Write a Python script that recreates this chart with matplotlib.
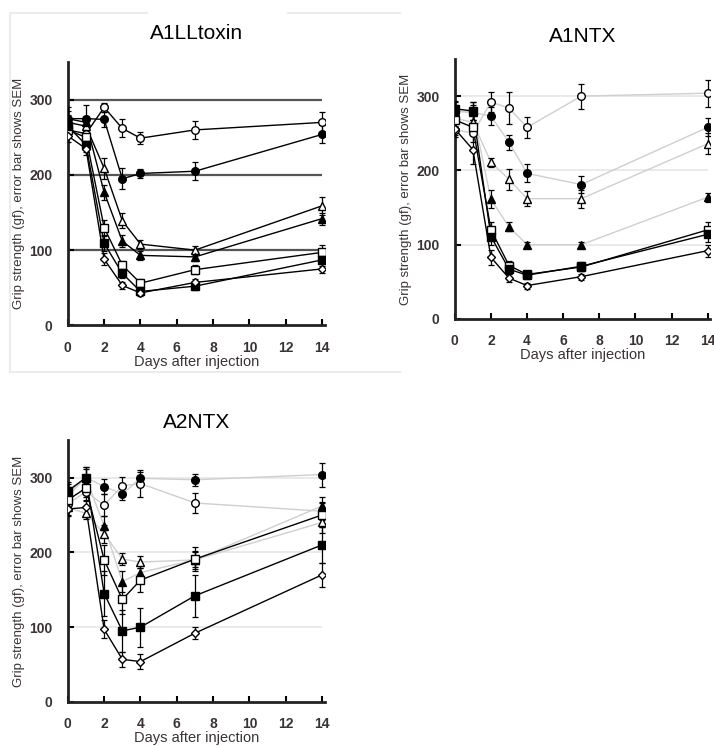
import matplotlib
matplotlib.use('Agg')
from matplotlib import pyplot as plt
from matplotlib.lines import Line2D

# Days after injection
days = [0, 1, 2, 3, 4, 7, 14]

# Series order: open circle, filled circle, open triangle, filled triangle,
# open square, filled square, open diamond
a1ll_vals = [
    [260, 255, 290, 262, 249, 260, 270],
    [275, 275, 274, 195, 202, 205, 254],
    [270, 265, 209, 139, 108, 100, 159],
    [275, 270, 177, 112, 93, 91, 142],
    [260, 250, 130, 80, 56, 74, 97],
    [265, 240, 109, 69, 45, 52, 87],
    [252, 235, 88, 53, 43, 57, 75],
]
a1ll_sem = [
    [10, 8, 6, 12, 8, 12, 14],
    [15, 18, 10, 14, 6, 12, 12],
    [10, 8, 14, 10, 6, 6, 12],
    [10, 8, 10, 8, 6, 6, 8],
    [8, 8, 10, 6, 5, 6, 10],
    [8, 10, 10, 6, 5, 5, 8],
    [8, 8, 8, 5, 4, 5, 6],
]

a1ntx_vals = [
    [255, 250, 292, 284, 258, 300, 304],
    [280, 278, 273, 238, 196, 181, 258],
    [270, 265, 211, 188, 162, 162, 236],
    [280, 278, 161, 124, 100, 100, 164],
    [268, 258, 120, 72, 60, 70, 120],
    [283, 280, 111, 67, 59, 71, 114],
    [256, 228, 83, 55, 45, 57, 92],
]
a1ntx_sem = [
    [10, 12, 14, 22, 14, 17, 18],
    [12, 14, 12, 10, 12, 12, 12],
    [10, 10, 6, 14, 10, 12, 14],
    [8, 10, 12, 6, 4, 4, 6],
    [10, 10, 10, 6, 5, 6, 10],
    [10, 12, 12, 6, 5, 6, 10],
    [8, 20, 10, 5, 4, 4, 8],
]

a2ntx_vals = [
    [265, 281, 263, 289, 292, 266, 255],
    [280, 300, 288, 278, 299, 297, 304],
    [260, 252, 225, 191, 187, 190, 240],
    [275, 300, 235, 161, 173, 190, 262],
    [270, 286, 190, 137, 163, 191, 250],
    [282, 300, 145, 95, 100, 142, 210],
    [258, 260, 97, 57, 54, 92, 170],
]
a2ntx_sem = [
    [10, 12, 15, 12, 18, 14, 12],
    [12, 14, 10, 8, 8, 8, 16],
    [10, 8, 12, 8, 8, 10, 14],
    [12, 12, 14, 14, 12, 12, 12],
    [12, 12, 20, 20, 16, 16, 16],
    [12, 14, 30, 28, 26, 28, 24],
    [10, 10, 12, 10, 10, 8, 16],
]

titles = ['A1LLtoxin', 'A1NTX', 'A2NTX']

# Marker styles: (marker, filled)
markers = [('o', False), ('o', True), ('^', False), ('^', True),
           ('s', False), ('s', True), ('D', False)]

txt = '#3a3333'
fam = ['Liberation Sans', 'DejaVu Sans']

fig = plt.figure(figsize=(7.14, 7.46), dpi=100)

# Light frame around first panel
frame = '#ececec'
fig.add_artist(Line2D([10/714, 10/714], [1-13/746, 1-372/746], color=frame, lw=1.5))
fig.add_artist(Line2D([10/714, 400/714], [1-372/746, 1-372/746], color=frame, lw=1.5))
fig.add_artist(Line2D([10/714, 147/714], [1-13/746, 1-13/746], color=frame, lw=1.5))
fig.add_artist(Line2D([288/714, 400/714], [1-13/746, 1-13/746], color=frame, lw=1.5))

panels = [
    (a1ll_vals, a1ll_sem, [0.095, 0.564, 0.36, 0.3525], '#555555', ['k']*7, 17),
    (a1ntx_vals, a1ntx_sem, [0.637, 0.5724, 0.358, 0.3485], '#e6e6e6',
     ['#cfcfcf']*4 + ['k']*3, 12),
    (a2ntx_vals, a2ntx_sem, [0.095, 0.059, 0.36, 0.351], '#e6e6e6',
     ['#cfcfcf']*4 + ['k']*3, 9),
]

for p, (vals, sems, pos, gridc, linec, tpad) in enumerate(panels):
    ax = fig.add_axes(pos)
    ax.hlines([100, 200, 300], 0, 14, color=gridc, lw=1.6 if p == 0 else 1.2, zorder=0)

    for i in range(7):
        m, filled = markers[i]
        ax.plot(days, vals[i], '-', color=linec[i], lw=1.0, zorder=2)
        ax.errorbar(days, vals[i], yerr=sems[i], fmt='none', ecolor='k',
                    elinewidth=0.9, capsize=2.5, capthick=0.9, zorder=3)
        ax.plot(days, vals[i], ls='none', marker=m,
                ms=5.5 if m != 'D' else 4.5,
                mfc='k' if filled else 'white', mec='k', mew=1.0, zorder=4)

    ax.set_xlim(0, 14.15)
    ax.set_ylim(0, 350)
    ax.set_xticks([0, 2, 4, 6, 8, 10, 12, 14])
    ax.set_yticks([0, 100, 200, 300])
    for s in ['top', 'right']:
        ax.spines[s].set_visible(False)
    for s in ['left', 'bottom']:
        ax.spines[s].set_linewidth(2.0)
        ax.spines[s].set_color('#222222')
    ax.tick_params(direction='in', length=4, width=1.5, pad=11,
                   labelsize=10, labelcolor=txt)
    for lab in ax.get_xticklabels() + ax.get_yticklabels():
        lab.set_fontweight('bold')
        lab.set_family(fam)
    ax.set_xlabel('Days after injection', fontsize=10.5, color=txt,
                  family=fam, labelpad=0)
    ax.set_ylabel('Grip strength (gf), error bar shows SEM', fontsize=9.5,
                  color=txt, family=fam, labelpad=3)
    ax.set_title(titles[p], fontsize=15, family=fam, pad=tpad)
    ax.patch.set_alpha(0)

fig.savefig('out.png', dpi=100)
